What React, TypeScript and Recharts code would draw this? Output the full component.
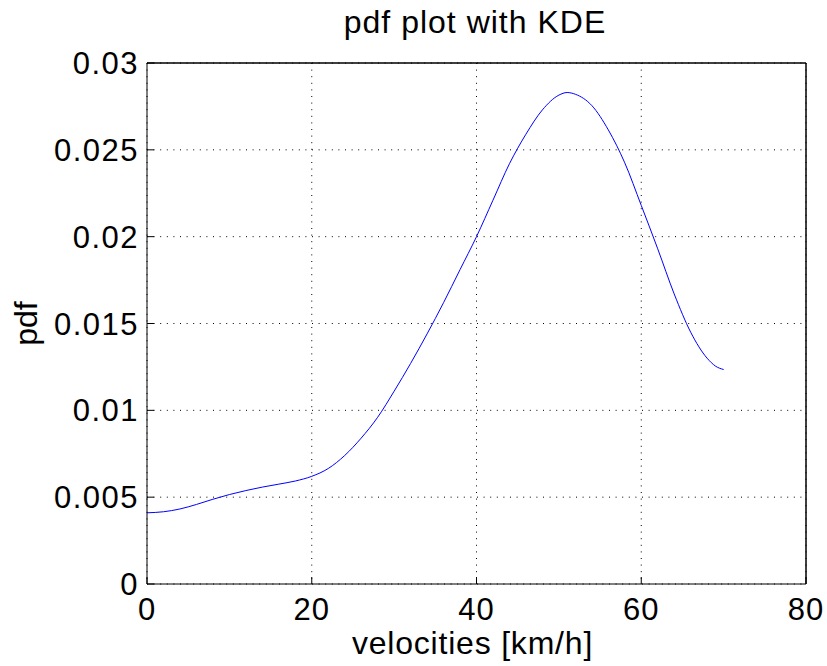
import { LineChart, Line, XAxis, YAxis, CartesianGrid, Label, ReferenceLine } from 'recharts'

const velocities = [0, 2, 4, 6, 8, 10, 12, 14, 16, 18, 20, 22, 24, 26, 28, 30, 32, 34, 36, 38, 40, 42, 44, 46, 48, 50, 51, 52, 54, 56, 58, 60, 62, 64, 66, 68, 69, 70]
const pdfValues = [
  0.0041, 0.00416, 0.00432, 0.00458, 0.00488, 0.00515, 0.00538, 0.00558, 0.00575, 0.00593,
  0.0062, 0.00665, 0.0074, 0.0084, 0.0096, 0.0111, 0.0127, 0.0144, 0.0162, 0.0181,
  0.02, 0.0221, 0.0242, 0.0259, 0.0273, 0.02815, 0.0283, 0.0282, 0.02755, 0.02615,
  0.02425, 0.0218, 0.0193, 0.0167, 0.0145, 0.013, 0.01255, 0.01235,
]
const xTicks = [0, 20, 40, 60, 80]
const yTicks = [0, 0.005, 0.01, 0.015, 0.02, 0.025, 0.03]

const title = 'pdf plot with KDE'
const xLabel = 'velocities [km/h]'
const yLabel = 'pdf'

const FONT = '"Liberation Sans", Arial, Helvetica, sans-serif'

const data = velocities.map((v, i) => ({ v, pdf: pdfValues[i] }))

export default function App() {
  return (
    <div style={{ position: 'absolute', left: 0, top: 0, width: 827, height: 666, fontFamily: FONT, background: '#fff' }}>
      <div
        style={{
          position: 'absolute',
          left: 147,
          top: 6,
          width: 656,
          textAlign: 'center',
          fontSize: 32,
          lineHeight: '32px',
          letterSpacing: 1,
          color: '#000',
        }}
      >
        {title}
      </div>
      <LineChart width={827} height={666} data={data} margin={{ top: 62, right: 20, bottom: 0, left: 47 }}>
        <CartesianGrid stroke="#000" strokeDasharray="1 5.6" />
        <XAxis
          dataKey="v"
          type="number"
          domain={[0, 80]}
          ticks={xTicks}
          height={82}
          axisLine={{ stroke: '#000' }}
          tickLine={{ stroke: '#000' }}
          tickSize={-7}
          tickMargin={21}
          tick={{ fill: '#000', fontSize: 31, fontFamily: FONT, letterSpacing: 1 }}
        >
          <Label value={xLabel} position="insideBottom" offset={12} dx={-4} fill="#000" fontSize={32} fontFamily={FONT} letterSpacing={0.8} />
        </XAxis>
        <XAxis
          xAxisId="top"
          orientation="top"
          dataKey="v"
          type="number"
          domain={[0, 80]}
          ticks={xTicks}
          height={1}
          axisLine={{ stroke: '#000' }}
          tickLine={{ stroke: '#000' }}
          tickSize={-7}
          tick={false}
        />
        <YAxis
          type="number"
          domain={[0, 0.03]}
          ticks={yTicks}
          width={100}
          axisLine={{ stroke: '#000' }}
          tickLine={{ stroke: '#000' }}
          tickSize={-7}
          tickMargin={15}
          tick={{ fill: '#000', fontSize: 31, fontFamily: FONT, letterSpacing: 1.5 }}
        >
          <Label
            content={({ viewBox }: any) => {
              const x = viewBox.x - 10
              const y = viewBox.y + viewBox.height / 2
              return (
                <text
                  x={x}
                  y={y}
                  transform={`rotate(-90, ${x}, ${y})`}
                  textAnchor="middle"
                  fill="#000"
                  fontSize={32}
                  fontFamily={FONT}
                >
                  {yLabel}
                </text>
              )
            }}
          />
        </YAxis>
        <YAxis
          yAxisId="right"
          orientation="right"
          type="number"
          domain={[0, 0.03]}
          ticks={yTicks}
          width={1}
          axisLine={{ stroke: '#000' }}
          tickLine={{ stroke: '#000' }}
          tickSize={-7}
          tick={false}
        />
        <ReferenceLine x={80} stroke="#000" strokeWidth={1} />
        <ReferenceLine y={0.03} stroke="#000" strokeWidth={1} />
        <Line
          dataKey="pdf"
          type="monotone"
          stroke="#0000ff"
          strokeWidth={1}
          dot={false}
          activeDot={false}
          isAnimationActive={false}
        />
        <Line
          xAxisId="top"
          yAxisId="right"
          dataKey="pdf"
          stroke="none"
          dot={false}
          activeDot={false}
          legendType="none"
          isAnimationActive={false}
        />
      </LineChart>
    </div>
  )
}
